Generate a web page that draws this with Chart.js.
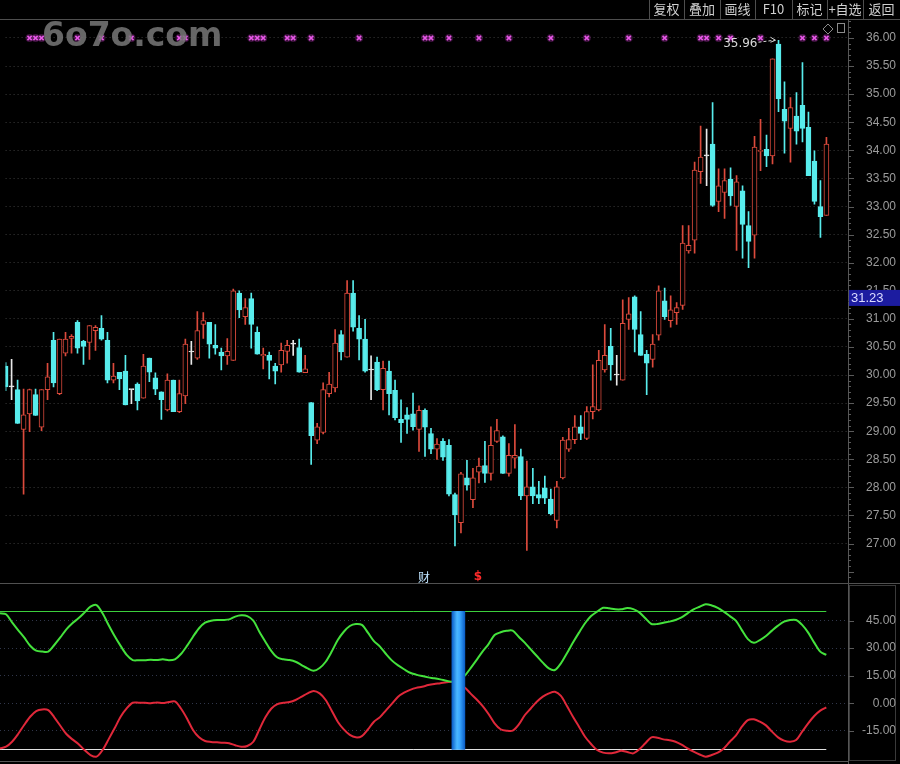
<!DOCTYPE html>
<html>
<head>
<meta charset="utf-8">
<script src="https://cdn.jsdelivr.net/npm/chart.js@4.4.1/dist/chart.umd.min.js"></script>
<style>
    html, body { margin: 0; padding: 0; background: #000; }
    #wrap { position: relative; width: 900px; height: 764px; background: #000; overflow: hidden; }
    #kline { position: absolute; left: 0; top: 0; }
    #ind { position: absolute; left: 0; top: 584px; }
</style>
</head>
<body>
<div id="wrap">
    <canvas id="kline" width="900" height="584"></canvas>
    <canvas id="ind" width="900" height="180"></canvas>
</div>
<script>
// K L I N E   D A T A  (index 0 = leftmost candle)
const opens = [
    30.16, 29.79, 29.74, 29.03, 29.31, 29.65, 29.07, 29.74, 30.62, 29.67,
    30.39, 30.65, 30.94, 30.60, 30.58, 30.79, 30.83, 30.62, 29.91, 30.05,
    30.07, 29.74, 29.84, 29.59, 30.30, 29.95, 29.70, 29.38, 29.91, 29.35,
    29.63, 30.41, 30.30, 30.90, 30.94, 30.53, 30.41, 30.34, 30.26, 31.46,
    31.04, 31.36, 30.76, 30.34, 30.35, 30.16, 30.18, 30.42, 30.55, 30.49,
    30.04, 29.51, 28.84, 28.98, 29.67, 29.77, 30.72, 30.32, 31.46, 30.83,
    30.64, 30.09, 30.23, 29.74, 30.07, 29.73, 29.21, 29.29, 29.31, 29.03,
    29.37, 28.96, 28.68, 28.82, 28.75, 27.87, 27.37, 28.17, 27.78, 28.27,
    28.39, 28.25, 28.82, 28.90, 28.25, 28.52, 28.55, 27.85, 28.01, 27.87,
    27.99, 27.79, 27.41, 28.17, 28.68, 28.85, 29.08, 28.87, 29.35, 29.38,
    30.09, 30.51, 30.00, 29.91, 30.99, 31.39, 30.72, 30.37, 30.28, 30.71,
    31.32, 30.97, 31.11, 31.24, 32.21, 32.40, 33.62, 33.90, 34.11, 33.09,
    33.25, 33.49, 33.00, 33.28, 32.66, 32.49, 33.98, 34.02, 33.90, 35.89,
    34.73, 34.39, 34.61, 34.80, 34.41, 33.81, 33.00, 32.84
];
const highs = [
    30.22, 30.28, 29.91, 29.75, 29.75, 29.75, 29.74, 30.21, 30.76, 30.64,
    30.76, 30.72, 30.97, 30.62, 30.88, 30.88, 31.06, 30.76, 30.21, 30.05,
    30.35, 29.74, 29.86, 30.37, 30.30, 30.04, 29.70, 30.02, 29.91, 29.91,
    30.64, 30.60, 31.13, 31.11, 30.94, 30.90, 30.48, 30.65, 31.53, 31.50,
    31.36, 31.46, 30.86, 30.48, 30.41, 30.21, 30.57, 30.62, 30.62, 30.64,
    30.35, 29.51, 29.14, 29.86, 30.05, 30.81, 30.79, 31.68, 31.68, 31.06,
    30.99, 30.34, 30.32, 30.25, 30.25, 29.91, 29.56, 29.42, 29.68, 29.45,
    29.40, 29.05, 28.87, 28.87, 28.85, 27.90, 28.27, 28.48, 28.34, 28.52,
    28.82, 29.08, 29.21, 28.92, 28.78, 29.12, 28.68, 28.47, 28.34, 28.11,
    28.20, 27.97, 28.11, 28.89, 29.05, 29.28, 29.28, 29.44, 30.18, 30.44,
    30.90, 30.83, 30.35, 31.34, 31.38, 31.41, 31.13, 30.44, 30.72, 31.59,
    31.55, 31.41, 31.29, 32.66, 32.66, 33.79, 34.43, 34.38, 34.85, 33.67,
    33.67, 33.69, 33.55, 33.37, 32.91, 34.25, 34.55, 34.27, 35.63, 35.96,
    35.22, 34.94, 35.03, 35.56, 34.68, 33.99, 33.46, 34.23
];
const lows = [
    29.72, 29.56, 29.14, 27.88, 28.99, 29.28, 29.01, 29.56, 29.79, 29.65,
    30.34, 30.39, 30.39, 30.19, 30.28, 30.44, 30.62, 29.86, 29.86, 29.74,
    29.47, 29.49, 29.38, 29.59, 29.88, 29.65, 29.21, 29.36, 29.35, 29.33,
    29.49, 30.19, 30.28, 30.65, 30.30, 30.37, 30.09, 30.19, 30.26, 31.02,
    30.90, 30.48, 30.37, 30.11, 29.93, 29.84, 30.05, 30.21, 30.35, 30.05,
    30.04, 28.41, 28.78, 28.95, 29.61, 29.70, 30.27, 30.32, 30.78, 30.27,
    30.05, 29.56, 29.72, 29.38, 29.29, 29.20, 28.80, 28.96, 29.02, 28.64,
    28.55, 28.60, 28.50, 28.48, 27.85, 26.96, 27.19, 27.95, 27.64, 28.08,
    28.09, 28.13, 28.80, 28.25, 28.20, 28.34, 27.78, 26.88, 27.71, 27.71,
    27.71, 27.51, 27.28, 28.15, 28.64, 28.78, 28.85, 28.85, 29.22, 29.36,
    30.05, 29.91, 29.82, 29.91, 30.81, 30.41, 30.35, 29.65, 30.14, 30.62,
    30.99, 30.85, 30.90, 31.17, 32.17, 32.17, 33.41, 33.37, 33.00, 32.91,
    32.79, 33.02, 32.22, 32.08, 31.91, 32.08, 33.64, 33.71, 33.76, 34.69,
    33.95, 33.79, 34.11, 34.15, 33.55, 33.04, 32.45, 32.84
];
const closes = [
    29.79, 29.79, 29.14, 29.29, 29.74, 29.28, 29.74, 29.97, 29.86, 30.64,
    30.64, 30.69, 30.48, 30.51, 30.88, 30.85, 30.64, 29.91, 29.98, 29.93,
    29.47, 29.74, 29.54, 30.16, 30.05, 29.75, 29.56, 29.91, 29.35, 29.67,
    30.55, 30.41, 30.79, 30.97, 30.55, 30.48, 30.34, 30.42, 31.50, 31.16,
    31.20, 30.90, 30.37, 30.37, 30.26, 30.07, 30.44, 30.53, 30.55, 30.05,
    30.11, 28.92, 29.08, 29.74, 29.84, 30.57, 30.41, 31.46, 30.85, 30.64,
    30.07, 30.09, 29.74, 30.12, 29.67, 29.24, 29.15, 29.21, 29.08, 29.37,
    29.07, 28.68, 28.77, 28.54, 27.88, 27.51, 28.24, 28.04, 28.17, 28.38,
    28.25, 28.75, 29.01, 28.25, 28.57, 28.57, 27.85, 28.01, 27.85, 27.81,
    27.81, 27.53, 28.01, 28.84, 28.85, 29.08, 28.96, 29.35, 29.44, 30.26,
    30.35, 30.18, 30.00, 30.92, 31.09, 30.81, 30.35, 30.21, 30.55, 31.50,
    31.04, 31.16, 31.20, 32.35, 32.31, 33.65, 33.88, 33.90, 33.02, 33.37,
    33.46, 33.19, 33.44, 32.68, 32.38, 34.06, 34.00, 33.90, 35.63, 34.92,
    34.52, 34.76, 34.34, 34.39, 33.55, 33.09, 32.82, 34.11
];

// I N D I K A T O R
const greenLine = [
    48.9, 48.4, 44.0, 39.8, 35.8, 31.3, 28.6, 28.1, 28.1, 31.7,
    35.8, 40.2, 43.5, 46.2, 49.3, 52.5, 53.4, 48.9, 42.6, 36.6,
    31.2, 26.3, 23.5, 23.4, 23.4, 23.7, 23.5, 23.9, 23.4, 23.9,
    26.8, 31.2, 36.2, 40.8, 43.8, 44.9, 45.3, 45.3, 45.6, 47.1,
    47.8, 47.4, 44.9, 38.9, 33.5, 28.4, 24.9, 23.9, 23.5, 22.6,
    20.8, 19.0, 17.7, 19.2, 22.6, 28.1, 34.4, 38.9, 42.0, 43.1,
    42.6, 38.4, 33.8, 30.8, 26.8, 23.2, 20.6, 18.5, 16.6, 15.6,
    14.8, 14.1, 13.6, 13.0, 12.3, 11.7, 13.0, 14.8, 19.0, 23.5,
    28.1, 32.2, 37.1, 38.6, 39.4, 39.5, 36.2, 33.0, 29.3, 25.7,
    22.1, 19.0, 18.1, 21.7, 27.2, 33.0, 38.4, 43.5, 47.4, 49.8,
    51.9, 51.6, 51.1, 51.1, 51.8, 51.2, 49.4, 46.2, 43.1, 43.1,
    43.8, 44.4, 45.3, 46.7, 48.9, 51.1, 52.5, 53.8, 53.2, 51.9,
    49.8, 47.4, 44.9, 39.8, 34.9, 32.9, 34.4, 36.6, 39.5, 42.2,
    44.4, 45.3, 45.3, 42.6, 38.4, 33.0, 28.1, 26.3
];
const redLine = [
    -24.5, -23.6, -20.9, -16.7, -11.8, -7.3, -4.2, -3.3, -3.7, -7.6,
    -12.2, -16.7, -19.6, -22.1, -25.4, -28.1, -29.0, -25.4, -19.6, -13.6,
    -7.3, -2.8, 0.3, 0.3, 0.3, 0.0, 0.5, 0.1, 0.7, 1.0,
    -2.8, -8.2, -14.5, -18.5, -20.5, -21.0, -21.2, -21.4, -21.7, -22.8,
    -23.6, -23.2, -20.9, -14.2, -7.6, -2.8, -0.4, 0.3, 0.7, 1.8,
    3.6, 5.4, 6.7, 5.4, 1.8, -4.0, -10.0, -14.2, -17.2, -18.5,
    -17.8, -14.2, -10.0, -7.5, -3.8, -0.2, 3.6, 5.8, 7.3, 8.4,
    9.0, 9.9, 10.5, 10.9, 11.4, 11.7, 10.0, 8.7, 5.4, 2.2,
    -1.4, -5.8, -10.9, -14.1, -14.9, -14.9, -11.6, -6.5, -2.8, 0.8,
    3.6, 5.4, 6.3, 4.0, -1.5, -7.3, -12.7, -18.2, -22.1, -25.4,
    -26.8, -27.2, -26.7, -25.8, -26.5, -27.2, -25.0, -21.7, -18.5, -18.7,
    -19.6, -20.1, -20.9, -22.5, -24.5, -26.3, -27.8, -29.0, -28.1, -26.8,
    -24.5, -20.9, -17.6, -12.7, -9.1, -8.7, -10.0, -12.0, -15.4, -18.5,
    -20.3, -20.9, -20.0, -15.4, -10.9, -6.9, -4.0, -2.2
];
const upperLevel = 50;
const lowerLevel = -25;
const barIdx = 76; // modri stolpec

// oznake
const signalIdx = [4, 5, 6, 12, 16, 21, 29, 30, 41, 42, 43, 47, 48, 51, 59, 70, 71, 74,
    79, 84, 91, 97, 104, 110, 116, 117, 119, 121, 126, 133, 135, 137];
const eventIdx = [70, 79];
const eventText = ["财", "$"];
const curPrice = 31.23;

// osi
const priceTicks = [27, 27.5, 28, 28.5, 29, 29.5, 30, 30.5, 31, 31.5, 32, 32.5, 33, 33.5, 34, 34.5, 35, 35.5, 36];
const indTicks = [-15, 0, 15, 30, 45];
const toolbar = ["复权", "叠加", "画线", "F10", "标记", "+自选", "返回"];
const toolbarEdges = [649, 684, 720, 755, 792, 827, 863, 900];

const UP = "#dc4a3c";
const DOWN = "#58ecec";
const FLAT = "#e8e8e8";
const AXIS_W = 52;
const xMin = 0, xMax = 140.6;

const idx = opens.map((_, i) => i);
const candleColor = idx.map((i) =>
    closes[i] > opens[i] ? UP : closes[i] < opens[i] ? DOWN : FLAT
);

function drawAxisLabels(c, scale, values, color) {
    c.fillStyle = color;
    c.font = "12px 'Liberation Sans'";
    c.textAlign = "right";
    c.textBaseline = "middle";
    values.forEach((v) => c.fillText(v.toFixed(2), 896, scale.getPixelForValue(v)));
}

// Z G O R N J I   G R A F
const klineDeco = {
    id: "klineDeco",
    afterDraw(chart) {
        const c = chart.ctx;
        const xs = chart.scales.x;
        const ys = chart.scales.y;
        const area = chart.chartArea;
        c.save();

        // orodna vrstica
        c.strokeStyle = "#4e4e4e";
        c.lineWidth = 1;
        c.beginPath();
        c.moveTo(0, 19.5);
        c.lineTo(900, 19.5);
        toolbarEdges.slice(0, -1).forEach((x) => {
            c.moveTo(x + 0.5, 0);
            c.lineTo(x + 0.5, 19);
        });
        c.stroke();
        c.fillStyle = "#d0d0d0";
        c.font = "13px 'Noto Sans CJK SC'";
        c.textAlign = "center";
        c.textBaseline = "middle";
        toolbar.forEach((t, k) => {
            c.fillText(t, (toolbarEdges[k] + toolbarEdges[k + 1]) / 2, 9);
        });

        // os
        c.strokeStyle = "#565656";
        c.beginPath();
        c.moveTo(area.right + 0.5, 19);
        c.lineTo(area.right + 0.5, 584);
        c.stroke();
        c.strokeStyle = "#5a5a5a";
        c.beginPath();
        for (let v = 26.4; v < ys.max; v += 0.1) {
            const y = Math.round(ys.getPixelForValue(v)) + 0.5;
            const major = Math.abs(v * 2 - Math.round(v * 2)) < 0.01;
            c.moveTo(area.right, y);
            c.lineTo(area.right + (major ? 6 : 3), y);
        }
        c.stroke();
        drawAxisLabels(c, ys, priceTicks, "#9c9c9c");

        // trenutna cena
        const py = ys.getPixelForValue(curPrice);
        c.fillStyle = "#1c1ca0";
        c.fillRect(area.right + 1, py - 16, 900 - area.right - 1, 16);
        c.fillStyle = "#dcdcff";
        c.textAlign = "left";
        c.font = "13px 'Liberation Sans'";
        c.fillText(curPrice.toFixed(2), area.right + 3, py - 8);

        // najvisja cena
        let hi = 0;
        highs.forEach((h, i) => { if (h > highs[hi]) hi = i; });
        const hx = xs.getPixelForValue(hi);
        const hy = ys.getPixelForValue(highs[hi]);
        c.fillStyle = "#d8d8d8";
        c.font = "12px 'DejaVu Sans'";
        c.textAlign = "right";
        c.fillText(highs[hi].toFixed(2), hx - 21, hy + 4);
        c.strokeStyle = "#d8d8d8";
        c.setLineDash([3, 2]);
        c.beginPath();
        c.moveTo(hx - 20, hy + 2);
        c.lineTo(hx - 4, hy);
        c.stroke();
        c.setLineDash([]);
        c.beginPath();
        c.moveTo(hx - 8, hy - 3);
        c.lineTo(hx - 3, hy);
        c.lineTo(hx - 8, hy + 2);
        c.stroke();

        // ikoni
        c.strokeStyle = "#8a8a8a";
        c.beginPath();
        c.moveTo(828, 24);
        c.lineTo(833, 29);
        c.lineTo(828, 34);
        c.lineTo(823, 29);
        c.closePath();
        c.stroke();
        c.strokeRect(837.5, 23.5, 7, 9);

        // vodni zig
        c.fillStyle = "rgba(120,120,120,0.85)";
        c.font = "bold 33px 'DejaVu Sans'";
        c.textAlign = "left";
        c.textBaseline = "alphabetic";
        c.fillText("6o7o.com", 42, 46);

        // dogodki
        c.textAlign = "center";
        c.textBaseline = "middle";
        eventIdx.forEach((i, k) => {
            c.fillStyle = k === 0 ? "#bfe4ff" : "#ff2a2a";
            c.font = k === 0 ? "12px 'Noto Sans CJK SC'" : "bold 12px 'DejaVu Sans'";
            c.fillText(eventText[k], xs.getPixelForValue(i) - 1, 577);
        });

        // locilna crta
        c.strokeStyle = "#505050";
        c.beginPath();
        c.moveTo(0, 583.5);
        c.lineTo(900, 583.5);
        c.stroke();
        c.restore();
    },
};

const signalTop = priceTicks[priceTicks.length - 1];

new Chart(document.getElementById("kline"), {
    type: "bar",
    data: {
        datasets: [
            {
                type: "scatter",
                data: signalIdx.map((i) => ({ x: i, y: signalTop })),
                pointStyle: "crossRot",
                pointRadius: 3,
                pointBorderColor: "#e656e6",
                pointBorderWidth: 1.6,
                order: 0,
            },
            {
                // sij okoli krizcev
                type: "scatter",
                data: signalIdx.map((i) => ({ x: i, y: signalTop })),
                pointStyle: "circle",
                pointRadius: 4,
                pointBackgroundColor: "rgba(170,50,170,0.35)",
                pointBorderWidth: 0,
                order: 1,
            },
            {
                data: idx.map((i) => ({ x: i, y: [opens[i], closes[i]] })),
                backgroundColor: candleColor.map((col) => (col === UP ? "#000" : col)),
                borderColor: candleColor,
                borderWidth: 1,
                borderSkipped: false,
                barThickness: 5,
                minBarLength: 1,
                grouped: false,
                order: 2,
            },
            {
                data: idx.map((i) => ({ x: i, y: [lows[i], highs[i]] })),
                backgroundColor: candleColor,
                barThickness: 1,
                grouped: false,
                order: 3,
            },
        ],
    },
    options: {
        responsive: false,
        animation: false,
        events: [],
        layout: { padding: { top: 20, bottom: 1, left: 0, right: 0 } },
        plugins: { legend: { display: false }, tooltip: { enabled: false } },
        scales: {
            x: { type: "linear", min: xMin, max: xMax, offset: false, display: false },
            y: {
                position: "right",
                min: 26.38,
                max: 36.32,
                beginAtZero: false,
                afterBuildTicks: (s) => { s.ticks = priceTicks.map((v) => ({ value: v })); },
                afterFit: (s) => { s.width = AXIS_W; s.paddingTop = 0; s.paddingBottom = 0; },
                ticks: { display: false },
                grid: { color: "#3c3c3c", drawTicks: false },
                border: { display: false, dash: [1, 3] },
            },
        },
    },
    plugins: [klineDeco],
});

// S P O D N J I   G R A F
const indDeco = {
    id: "indDeco",
    beforeDatasetsDraw(chart) {
        const c = chart.ctx;
        const xs = chart.scales.x;
        const ys = chart.scales.y;
        c.save();
        c.lineWidth = 1;
        [[upperLevel, "#3ccf3c"], [lowerLevel, "#e0e0e0"]].forEach(([v, col]) => {
            const y = Math.round(ys.getPixelForValue(v)) + 0.5;
            c.strokeStyle = col;
            c.beginPath();
            c.moveTo(xs.getPixelForValue(0), y);
            c.lineTo(xs.getPixelForValue(idx.length - 1), y);
            c.stroke();
        });
        c.restore();
    },
    afterDraw(chart) {
        const c = chart.ctx;
        const ys = chart.scales.y;
        const area = chart.chartArea;
        c.save();
        c.strokeStyle = "#565656";
        c.lineWidth = 1;
        c.beginPath();
        c.moveTo(area.right + 0.5, 0);
        c.lineTo(area.right + 0.5, 180);
        c.moveTo(0, 177.5);
        c.lineTo(area.right, 177.5);
        c.stroke();
        c.strokeStyle = "#3a3a3a";
        c.strokeRect(area.right + 1.5, 1.5, 46, 175);
        c.strokeStyle = "#5a5a5a";
        c.beginPath();
        indTicks.forEach((v) => {
            const y = Math.round(ys.getPixelForValue(v)) + 0.5;
            c.moveTo(area.right, y);
            c.lineTo(area.right + 6, y);
        });
        c.stroke();
        drawAxisLabels(c, ys, indTicks.slice().reverse(), "#9c9c9c");
        c.restore();
    },
};

function blueGradient(ctx) {
    const chart = ctx.chart;
    const xs = chart.scales.x;
    const px = xs ? xs.getPixelForValue(barIdx) : NaN;
    if (!chart.chartArea || !Number.isFinite(px)) return "#2a9cf4";
    const g = chart.ctx.createLinearGradient(px - 6.5, 0, px + 6.5, 0);
    g.addColorStop(0, "#0b5ec8");
    g.addColorStop(0.4, "#4ab8ff");
    g.addColorStop(0.6, "#3aa8ff");
    g.addColorStop(1, "#0b5ec8");
    return g;
}

new Chart(document.getElementById("ind"), {
    type: "bar",
    data: {
        datasets: [
            {
                data: [{ x: barIdx, y: [lowerLevel, upperLevel] }],
                backgroundColor: blueGradient,
                barThickness: 13,
                grouped: false,
                order: 0,
            },
            {
                type: "line",
                data: greenLine.map((v, i) => ({ x: i, y: v })),
                borderColor: "#44e23c",
                borderWidth: 2,
                pointRadius: 0,
                tension: 0.3,
                order: 1,
            },
            {
                type: "line",
                data: redLine.map((v, i) => ({ x: i, y: v })),
                borderColor: "#e0283a",
                borderWidth: 2,
                pointRadius: 0,
                tension: 0.3,
                order: 2,
            },
        ],
    },
    options: {
        responsive: false,
        animation: false,
        events: [],
        layout: { padding: { top: 1, bottom: 2, left: 0, right: 0 } },
        plugins: { legend: { display: false }, tooltip: { enabled: false } },
        scales: {
            x: { type: "linear", min: xMin, max: xMax, offset: false, display: false },
            y: {
                position: "right",
                min: -31.9,
                max: 64.3,
                beginAtZero: false,
                afterBuildTicks: (s) => { s.ticks = indTicks.map((v) => ({ value: v })); },
                afterFit: (s) => { s.width = AXIS_W; s.paddingTop = 0; s.paddingBottom = 0; },
                ticks: { display: false },
                grid: { color: "#30364a", drawTicks: false },
                border: { display: false, dash: [1, 3] },
            },
        },
    },
    plugins: [indDeco],
});
</script>
</body>
</html>
